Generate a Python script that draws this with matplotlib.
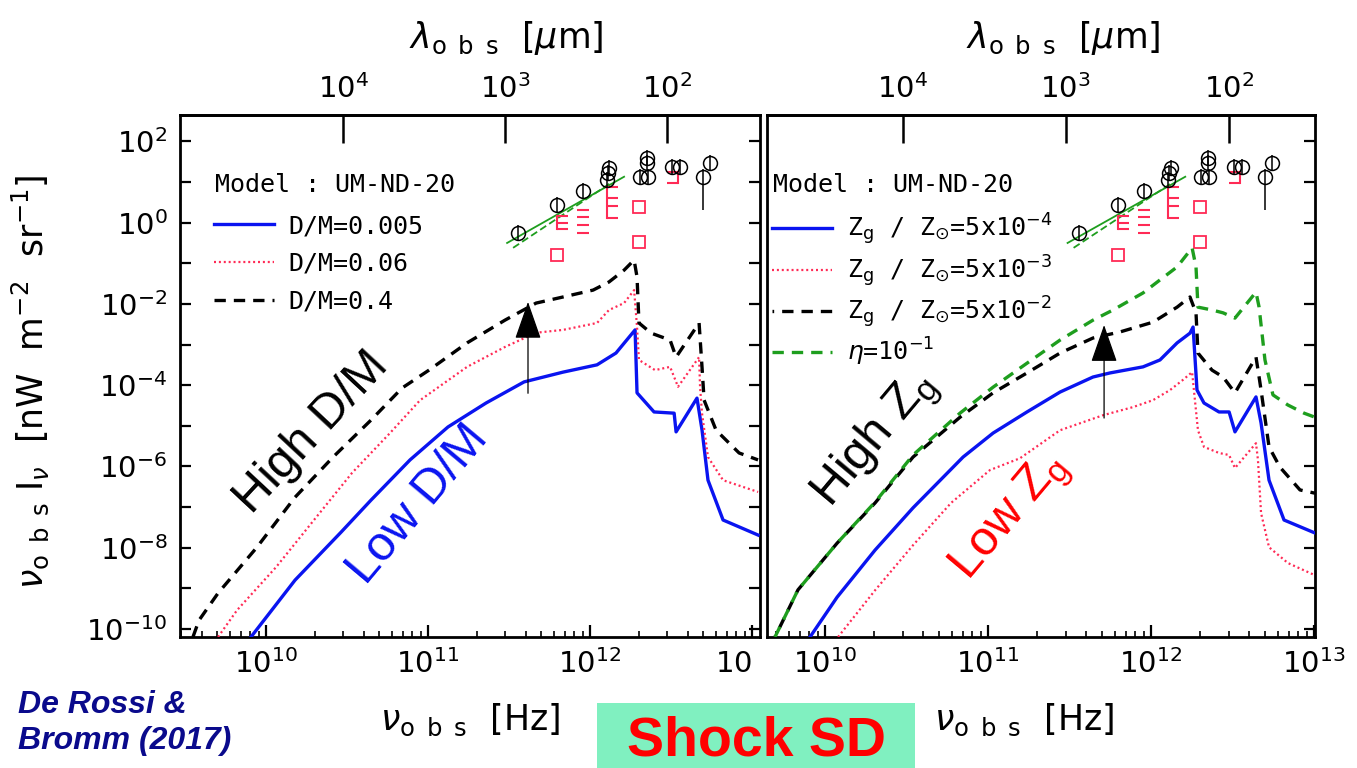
import matplotlib

matplotlib.use("Agg")
import matplotlib.pyplot as plt
import numpy as np
from matplotlib.patches import Rectangle
from matplotlib.ticker import FixedLocator, NullFormatter, NullLocator

C_UM_HZ = 2.998e14  # c in micron * Hz

# ---- left panel: dust-to-metal ratio (log10 nu [Hz], log10 nu I_nu) ----
model_name = "Model : UM-ND-20"
dm_labels = ["D/M=0.005", "D/M=0.06", "D/M=0.4"]

dm005_lognu = [9.907, 10.179, 10.463, 10.648, 10.889, 11.123, 11.358, 11.593, 11.833,
               12.043, 12.160, 12.278, 12.290, 12.395, 12.519, 12.531, 12.660, 12.691,
               12.728, 12.821, 13.037]
dm005_logI = [-10.20, -8.80, -7.62, -6.83, -5.84, -5.03, -4.44, -3.92, -3.68,
              -3.50, -3.21, -2.64, -4.19, -4.66, -4.69, -5.15, -4.32, -5.10,
              -6.34, -7.32, -7.69]

dm006_lognu = [9.704, 9.821, 10.062, 10.296, 10.531, 10.765, 10.951, 11.241, 11.475,
               11.667, 11.833, 12.043, 12.117, 12.210, 12.272, 12.290, 12.302, 12.401,
               12.494, 12.543, 12.673, 12.679, 12.691, 12.728, 12.821, 13.037]
dm006_logI = [-10.20, -9.54, -8.48, -7.32, -6.16, -5.18, -4.37, -3.55, -3.06,
              -2.71, -2.64, -2.47, -2.15, -1.98, -1.66, -2.57, -3.38, -3.63,
              -3.55, -4.04, -3.31, -4.04, -4.69, -5.77, -6.34, -6.63]

dm04_lognu = [9.549, 9.586, 9.704, 9.944, 10.179, 10.414, 10.648, 10.840, 11.006,
              11.241, 11.475, 11.667, 11.833, 12.019, 12.117, 12.210, 12.272, 12.290,
              12.302, 12.377, 12.494, 12.531, 12.673, 12.691, 12.704, 12.778, 12.920,
              13.037]
dm04_logI = [-10.20, -9.79, -9.12, -7.99, -6.76, -5.77, -4.86, -4.07, -3.63,
             -2.96, -2.40, -1.98, -1.83, -1.66, -1.46, -1.17, -0.92, -1.34,
             -2.47, -2.72, -2.89, -3.31, -2.47, -3.55, -4.37, -5.11, -5.67,
             -5.84]

# ---- right panel: gas metallicity and eta ----
zg_labels = [r"Z$_{\rm g}$ / Z$_{\odot}$=5x10$^{-4}$",
             r"Z$_{\rm g}$ / Z$_{\odot}$=5x10$^{-3}$",
             r"Z$_{\rm g}$ / Z$_{\odot}$=5x10$^{-2}$",
             r"$\eta$=10$^{-1}$"]

zg4_lognu = [9.908, 10.074, 10.307, 10.540, 10.847, 11.031, 11.239, 11.442, 11.644,
             11.748, 11.951, 12.055, 12.160, 12.239, 12.258, 12.282, 12.325, 12.417,
             12.479, 12.515, 12.644, 12.675, 12.724, 12.816, 13.006]
zg4_logI = [-10.20, -9.22, -8.06, -7.02, -5.77, -5.18, -4.66, -4.17, -3.80,
            -3.70, -3.55, -3.38, -2.96, -2.72, -2.57, -4.12, -4.44, -4.66,
            -4.66, -5.15, -4.29, -4.93, -6.34, -7.32, -7.64]

zg3_lognu = [10.080, 10.307, 10.540, 10.773, 11.012, 11.196, 11.442, 11.706, 11.890,
             12.012, 12.117, 12.196, 12.252, 12.288, 12.325, 12.417, 12.479, 12.515,
             12.644, 12.656, 12.675, 12.724, 12.840, 13.006]
zg3_logI = [-10.20, -9.05, -7.94, -6.90, -6.09, -5.80, -5.11, -4.74, -4.54,
            -4.37, -4.12, -3.87, -3.68, -5.11, -5.52, -5.67, -5.72, -6.04,
            -5.43, -5.84, -7.15, -7.99, -8.38, -8.68]

zg2_lognu = [9.693, 9.834, 10.074, 10.307, 10.540, 10.828, 11.031, 11.239, 11.442,
             11.644, 11.810, 12.012, 12.160, 12.239, 12.276, 12.288, 12.374, 12.442,
             12.515, 12.644, 12.663, 12.675, 12.724, 12.791, 12.914, 13.006]
zg2_logI = [-10.20, -9.04, -7.89, -6.90, -5.77, -4.79, -4.19, -3.70, -3.21,
            -2.84, -2.69, -2.45, -2.08, -1.83, -2.22, -3.21, -3.63, -3.80,
            -4.19, -3.31, -3.80, -4.12, -5.52, -6.02, -6.58, -6.66]

eta_lognu = [9.693, 9.834, 10.074, 10.307, 10.540, 10.828, 11.031, 11.239, 11.442,
             11.644, 11.767, 11.951, 12.055, 12.160, 12.252, 12.276, 12.288, 12.374,
             12.442, 12.515, 12.644, 12.663, 12.699, 12.748, 12.840, 12.939, 13.006]
eta_logI = [-10.20, -9.04, -7.89, -6.88, -5.72, -4.69, -4.05, -3.46, -2.89,
            -2.40, -2.15, -1.73, -1.41, -1.09, -0.62, -1.09, -2.08, -2.15,
            -2.22, -2.35, -1.71, -2.08, -3.38, -4.24, -4.49, -4.69, -4.79]

# ---- observed background points (same in both panels) ----
obs_lognu = [11.556, 11.796, 11.957, 12.111, 12.105, 12.120, 12.309, 12.358, 12.350,
             12.350, 12.506, 12.556, 12.741, 12.698]
obs_logI = [-0.254, 0.436, 0.781, 1.224, 1.05, 1.35, 1.13, 1.13, 1.47,
            1.59, 1.37, 1.37, 1.47, 1.13]
obs_err_lo = [0.2, 0.2, 0.2, 0.2, 0.2, 0.2, 0.2, 0.2, 0.2, 0.2, 0.2, 0.2, 0.2, 0.82]
obs_err_hi = [0.2, 0.2, 0.2, 0.2, 0.2, 0.2, 0.2, 0.2, 0.2, 0.2, 0.2, 0.2, 0.2, 0.2]

fit_solid_lognu = [11.488, 12.210]
fit_solid_logI = [-0.50, 1.13]
fit_dash_lognu = [11.525, 12.136]
fit_dash_logI = [-0.62, 1.00]

red_box_lognu = [11.796, 12.302, 12.302]
red_box_logI = [-0.796, 0.387, -0.475]
red_open_lognu = [11.796, 12.105]          # "E"-like brackets, ticks to the right
red_open_logI = [[0.165, -0.007, -0.155], [0.88, 0.61, 0.41, 0.116]]
red_dash_lognu = 11.957                     # stacked dashes
red_dash_logI = [0.313, 0.14, -0.057, -0.254]
red_close_lognu = 12.543                    # "]" bracket, ticks to the left
red_close_logI = [1.25, 0.98]

# arrows (log10 nu, log10 I start, log10 I end)
arrow_left = (11.617, -4.20, -1.95)
arrow_right = (11.712, -4.81, -2.52)

BLUE = "#0A14F0"
RED = "#FF2A55"
GREEN = "#1E9E1E"
NAVY = "#0A0A8C"


def curve(ax, lognu, logI, **kw):
    return ax.plot(10.0 ** np.asarray(lognu), 10.0 ** np.asarray(logI), **kw)[0]


def draw_obs(ax):
    curve(ax, fit_solid_lognu, fit_solid_logI, color=GREEN, lw=1.3, zorder=3)
    curve(ax, fit_dash_lognu, fit_dash_logI, color=GREEN, lw=1.3, ls=(0, (4, 2)), zorder=3)
    li = np.asarray(obs_logI)
    val = 10.0 ** li
    lo = val - 10.0 ** (li - np.asarray(obs_err_lo))
    hi = 10.0 ** (li + np.asarray(obs_err_hi)) - val
    ax.errorbar(10.0 ** np.asarray(obs_lognu), val, yerr=[lo, hi], fmt="o", ms=10,
                mfc="none", mec="black", mew=1.1, ecolor="black", elinewidth=1.1,
                capsize=0, zorder=4)
    curve(ax, red_box_lognu, red_box_logI, ls="none", marker="s", ms=8,
          mfc="none", mec=RED, mew=1.3, zorder=3)
    for nu, vals in zip(red_open_lognu, red_open_logI):
        curve(ax, [nu, nu], [min(vals), max(vals)], color=RED, lw=1.5, zorder=3)
        curve(ax, [nu] * len(vals), vals, ls="none", marker=1, ms=8, mew=1.5,
              color=RED, zorder=3)
    curve(ax, [red_dash_lognu] * len(red_dash_logI), red_dash_logI, ls="none",
          marker="_", ms=9, mew=1.5, color=RED, zorder=3)
    curve(ax, [red_close_lognu] * 2, red_close_logI, color=RED, lw=1.5, zorder=3)
    curve(ax, [red_close_lognu] * 2, red_close_logI, ls="none", marker=0, ms=8,
          mew=1.5, color=RED, zorder=3)


def draw_arrow(ax, spec):
    lognu, lo, hi = spec
    ax.annotate("", xy=(10 ** lognu, 10 ** hi), xytext=(10 ** lognu, 10 ** lo),
                arrowprops=dict(arrowstyle="-|>,head_length=0.8,head_width=0.28",
                                mutation_scale=30, lw=0.9, color="black",
                                shrinkA=0, shrinkB=0), zorder=6)


def style_axes(ax, xlim, xlabels, left_ticks):
    ax.set_xscale("log")
    ax.set_yscale("log")
    ax.set_xlim(10 ** xlim[0], 10 ** xlim[1])
    ax.set_ylim(10 ** -10.2, 10 ** 2.65)
    ax.set_xticks([1e10, 1e11, 1e12, 1e13], labels=xlabels)
    ax.xaxis.set_minor_formatter(NullFormatter())
    ax.set_yticks(10.0 ** np.arange(-10, 3, 2),
                  labels=[r"$10^{%d}$" % e for e in range(-10, 3, 2)])
    ax.yaxis.set_minor_locator(FixedLocator(10.0 ** np.arange(-9, 3, 2)))
    ax.yaxis.set_minor_formatter(NullFormatter())
    ax.tick_params(axis="x", which="major", direction="in", length=9, width=1.6,
                   labelsize=21, pad=9, top=False)
    ax.tick_params(axis="x", which="minor", direction="in", length=4.5, width=1.2, top=False)
    ax.tick_params(axis="y", which="both", direction="in", length=8, width=1.6,
                   labelsize=21, pad=9, left=left_ticks, right=True,
                   labelleft=left_ticks)
    for sp in ax.spines.values():
        sp.set_linewidth(2.0)

    sec = ax.secondary_xaxis("top", functions=(lambda x: C_UM_HZ / np.asarray(x),
                                               lambda x: C_UM_HZ / np.asarray(x)))
    sec.set_xticks([1e4, 1e3, 1e2], labels=[r"$10^{4}$", r"$10^{3}$", r"$10^{2}$"])
    sec.xaxis.set_minor_locator(NullLocator())
    sec.tick_params(axis="x", direction="in", length=20, width=1.8, labelsize=21, pad=8)
    sec.spines["top"].set_linewidth(2.0)
    return sec


fig = plt.figure(figsize=(13.57, 7.68), dpi=100)
W, H = 1357.0, 768.0
ax_l = fig.add_axes([180 / W, (H - 637) / H, 580 / W, 522 / H])
ax_r = fig.add_axes([767 / W, (H - 637) / H, 548 / W, 522 / H])

sec_l = style_axes(ax_l, (9.469, 13.049),
                   [r"$10^{10}$", r"$10^{11}$", r"$10^{12}$", r"$10$"], True)
ax_l.get_xticklabels()[-1].set_horizontalalignment("right")
sec_r = style_axes(ax_r, (9.644, 13.006),
                   [r"$10^{10}$", r"$10^{11}$", r"$10^{12}$", r"$10^{13}$"], False)

dash = (0, (3.4, 2.4))
dot = (0, (0.9, 1.3))

# left panel
h1 = curve(ax_l, dm005_lognu, dm005_logI, color=BLUE, lw=2.4, zorder=5)
h2 = curve(ax_l, dm006_lognu, dm006_logI, color=RED, lw=1.6, ls=dot, zorder=5)
h3 = curve(ax_l, dm04_lognu, dm04_logI, color="black", lw=2.4, ls=dash, zorder=5)
draw_obs(ax_l)
draw_arrow(ax_l, arrow_left)

mono = {"family": "DejaVu Sans Mono", "size": 18}
ax_l.legend([h1, h2, h3], dm_labels, loc="upper left", bbox_to_anchor=(0.058, 0.81),
            frameon=False, prop=mono, handlelength=2.4, handletextpad=0.6,
            labelspacing=0.55, borderaxespad=0, borderpad=0)

# right panel
g1 = curve(ax_r, zg4_lognu, zg4_logI, color=BLUE, lw=2.4, zorder=5)
g2 = curve(ax_r, zg3_lognu, zg3_logI, color=RED, lw=1.6, ls=dot, zorder=5)
g3 = curve(ax_r, zg2_lognu, zg2_logI, color="black", lw=2.4, ls=(2.9, (3.4, 2.4)), zorder=5)
g4 = curve(ax_r, eta_lognu, eta_logI, color=GREEN, lw=2.4, ls=dash, zorder=5)
draw_obs(ax_r)
draw_arrow(ax_r, arrow_right)

ax_r.legend([g1, g2, g3, g4], zg_labels, loc="upper left", bbox_to_anchor=(0.01, 0.815),
            frameon=False, prop=mono, handlelength=2.4, handletextpad=0.6,
            labelspacing=0.22, borderaxespad=0, borderpad=0)

for ax, x0 in [(ax_l, 0.060), (ax_r, 0.011)]:
    ax.text(x0, (637 - 185) / 522, model_name, transform=ax.transAxes,
            ha="left", va="center", **mono)

# axis labels
ylab = r"$\nu_{\rm o\ \,b\ \,s}\ {\rm I}_{\nu}\ \ [{\rm nW\ \ m^{-2}\ \ sr^{-1}}]$"
ax_l.set_ylabel(ylab, fontsize=25)
ax_l.yaxis.set_label_coords((30 - 180) / 580, (637 - 382) / 522)
ax_l.yaxis.label.set_verticalalignment("center")

xlab = r"$\nu_{\rm o\ \,b\ \,s}\ \ [{\rm Hz}]$"
lamlab = r"$\lambda_{\rm o\ \,b\ \,s}\ \ [\mu{\rm m}]$"
for ax, sec, xc, lc in [(ax_l, sec_l, 0.5, 0.562), (ax_r, sec_r, 0.469, 0.54)]:
    ax.set_xlabel(xlab, fontsize=25)
    ax.xaxis.set_label_coords(xc, (637 - 720) / 522)
    ax.xaxis.label.set_verticalalignment("center")
    sec.set_xlabel(lamlab, fontsize=25)
    sec.xaxis.set_label_coords(lc, (637 - 38) / 522, transform=ax.transAxes)
    sec.xaxis.label.set_verticalalignment("center")

# annotations
big = {"family": "Liberation Sans", "size": 35, "ha": "center", "va": "center",
       "rotation_mode": "anchor"}
ax_l.text(10 ** 10.28, 10 ** -5.16, "High D/M", color="black", rotation=47, **big)
ax_l.text(10 ** 10.94, 10 ** -6.95, "Low D/M", color=BLUE, rotation=50, **big)
ax_r.text(10 ** 10.31, 10 ** -5.35, r"High Z$_\mathregular{g}$", color="black", rotation=50, **big)
ax_r.text(10 ** 11.14, 10 ** -7.27, r"Low Z$_\mathregular{g}$", color="#FF0000", rotation=50, **big)

fig.text(18 / W, 1 - 690 / H, "De Rossi &\nBromm (2017)", color=NAVY,
         family="Liberation Sans", weight="bold", style="italic", fontsize=23,
         ha="left", va="top", linespacing=1.25)

fig.patches.append(Rectangle((597 / W, 0), 318 / W, 65 / H, transform=fig.transFigure,
                             facecolor="#80F0C0", edgecolor="none", zorder=0))
fig.text(757 / W, 12 / H, "Shock SD", color="#FF0000", family="Liberation Sans",
         weight="bold", fontsize=40, ha="center", va="baseline")

fig.savefig("out.png", dpi=100)
